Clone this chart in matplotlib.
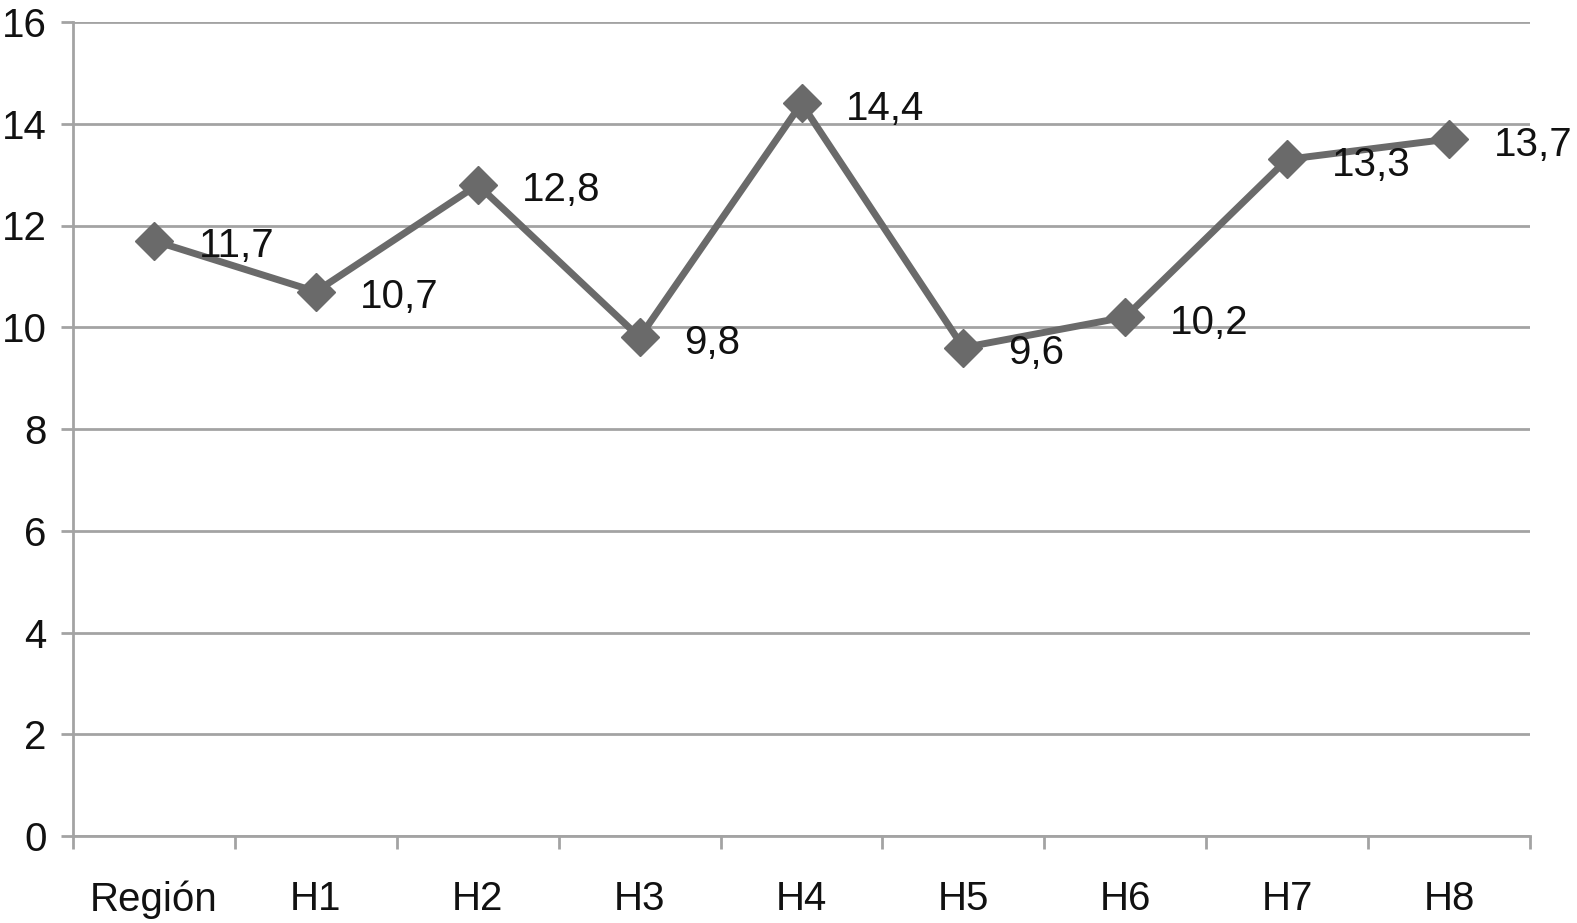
import matplotlib
matplotlib.use("Agg")
import matplotlib.pyplot as plt
from matplotlib.ticker import FixedLocator

categories = ["Región", "H1", "H2", "H3", "H4", "H5", "H6", "H7", "H8"]
values = [11.7, 10.7, 12.8, 9.8, 14.4, 9.6, 10.2, 13.3, 13.7]
labels = ["11,7", "10,7", "12,8", "9,8", "14,4", "9,6", "10,2", "13,3", "13,7"]
yticks = [0, 2, 4, 6, 8, 10, 12, 14, 16]

plt.rcParams['font.family'] = ['Liberation Sans', 'DejaVu Sans']

fig = plt.figure(figsize=(15.77, 9.23), dpi=100)
ax = fig.add_axes([73/1577, 1 - 836/923, (1530-73)/1577, (836-22)/923])

grid_c = "#a3a3a3"
x = list(range(len(categories)))
ax.plot(x, values, color="#6a6a6a", lw=5, marker="D", ms=19,
        markerfacecolor="#6a6a6a", markeredgecolor="#6a6a6a", zorder=3, clip_on=False)
for xi, v, lab in zip(x, values, labels):
    ax.annotate(lab, (xi, v), xytext=(32, -4), textcoords="offset points",
                ha="left", va="center", fontsize=29, color="#111111", zorder=4,
                annotation_clip=False)

ax.set_xlim(-0.5, len(categories) - 0.5)
ax.set_ylim(0, 16)
ax.set_yticks(yticks)
ax.set_yticklabels([str(t) for t in yticks])
ax.set_xticks(x)
ax.set_xticklabels(categories)
ax.xaxis.set_minor_locator(FixedLocator([i - 0.5 for i in range(len(categories) + 1)]))

ax.grid(axis="y", color=grid_c, lw=2)
ax.set_axisbelow(True)
for s in ["top", "right"]:
    ax.spines[s].set_visible(False)
for s in ["left", "bottom"]:
    ax.spines[s].set_color(grid_c)
    ax.spines[s].set_linewidth(2)

ax.tick_params(axis="y", length=9, width=2, color=grid_c, labelsize=29, pad=10, labelcolor="#111111")
ax.tick_params(axis="x", which="major", length=0, labelsize=29, pad=32, labelcolor="#111111")
ax.tick_params(axis="x", which="minor", length=9, width=2, color=grid_c)

fig.savefig("out.png", dpi=100)
